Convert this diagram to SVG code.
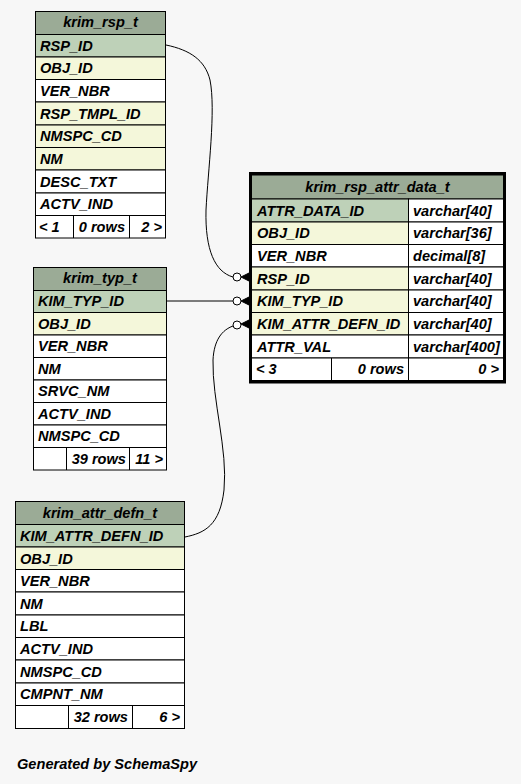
<svg xmlns="http://www.w3.org/2000/svg" width="521" height="784" viewBox="0 0 521 784">
<style>
.bg{fill:#f7f7f7}
.hd{fill:#9bab96;stroke:#000;stroke-width:1}
.pk{fill:#bed1b8;stroke:#000;stroke-width:1}
.fk{fill:#f4f7da;stroke:#000;stroke-width:1}
.pl{fill:#ffffff;stroke:#000;stroke-width:1}
.ln{stroke:#000;stroke-width:1;fill:none}
text{font-family:"Liberation Sans",Arial,sans-serif;font-weight:bold;font-style:italic;font-size:14.6px;fill:#000}
.c{text-anchor:middle}
.r{text-anchor:end}
.edge{fill:none;stroke:#000;stroke-width:1}
.dot{fill:#fff;stroke:#000;stroke-width:1}
.crow{fill:#000;stroke:#000;stroke-width:1}
</style>
<rect class="bg" x="0" y="0" width="521" height="784"/>

<g id="connectors">
<path class="edge" d="M166,45 C190,50 205,60 210,80 C216,110 208,170 206,210 C205,250 215,272 233,277"/>
<circle class="dot" cx="237" cy="277" r="4"/>
<path class="crow" d="M241,277 L249,273 L249,281 Z"/>
<path class="edge" d="M167,301 L233,301"/>
<circle class="dot" cx="237" cy="301" r="4"/>
<path class="crow" d="M241,301 L249,297 L249,305 Z"/>
<path class="edge" d="M185,537 C205,533 220,525 224,490 C228,450 212,400 213,360 C214,340 222,330 233,326"/>
<circle class="dot" cx="237" cy="325" r="4"/>
<path class="crow" d="M241,324 L249,320 L249,328 Z"/>
</g>

<g id="krim_rsp_t">
<rect class="hd" x="35.5" y="11.5" width="130" height="23"/>
<text class="c" x="100.5" y="27">krim_rsp_t</text>
<rect class="pk" x="35.5" y="34.5" width="130" height="22.5"/>
<rect class="fk" x="35.5" y="57" width="130" height="22.5"/>
<rect class="pl" x="35.5" y="79.5" width="130" height="22.5"/>
<rect class="fk" x="35.5" y="102" width="130" height="23"/>
<rect class="fk" x="35.5" y="125" width="130" height="22.5"/>
<rect class="fk" x="35.5" y="147.5" width="130" height="22.5"/>
<rect class="pl" x="35.5" y="170" width="130" height="23"/>
<rect class="pl" x="35.5" y="193" width="130" height="22.5"/>
<rect class="pl" x="35.5" y="215.5" width="130" height="22.5"/>
<line class="ln" x1="73.5" y1="215.5" x2="73.5" y2="238"/>
<line class="ln" x1="129.5" y1="215.5" x2="129.5" y2="238"/>
<text x="40" y="51">RSP_ID</text>
<text x="40" y="73">OBJ_ID</text>
<text x="40" y="96">VER_NBR</text>
<text x="40" y="119">RSP_TMPL_ID</text>
<text x="40" y="141">NMSPC_CD</text>
<text x="40" y="164">NM</text>
<text x="40" y="187">DESC_TXT</text>
<text x="40" y="209">ACTV_IND</text>
<text x="39" y="232">&lt; 1</text>
<text class="r" x="125" y="232">0 rows</text>
<text class="r" x="162" y="232">2 &gt;</text>
</g>

<g id="krim_rsp_attr_data_t">
<rect class="hd" x="251" y="175" width="253" height="24"/>
<text class="c" x="377.5" y="192">krim_rsp_attr_data_t</text>
<rect class="pk" x="251" y="199" width="157.5" height="23"/>
<rect class="fk" x="251" y="222" width="157.5" height="22.5"/>
<rect class="pl" x="251" y="244.5" width="157.5" height="22.5"/>
<rect class="fk" x="251" y="267" width="157.5" height="23"/>
<rect class="fk" x="251" y="290" width="157.5" height="22.5"/>
<rect class="fk" x="251" y="312.5" width="157.5" height="22.5"/>
<rect class="pl" x="251" y="335" width="157.5" height="23"/>
<rect class="pl" x="408.5" y="199" width="95.5" height="23"/>
<rect class="pl" x="408.5" y="222" width="95.5" height="22.5"/>
<rect class="pl" x="408.5" y="244.5" width="95.5" height="22.5"/>
<rect class="pl" x="408.5" y="267" width="95.5" height="23"/>
<rect class="pl" x="408.5" y="290" width="95.5" height="22.5"/>
<rect class="pl" x="408.5" y="312.5" width="95.5" height="22.5"/>
<rect class="pl" x="408.5" y="335" width="95.5" height="23"/>
<rect class="pl" x="251" y="358" width="253" height="22.5"/>
<line class="ln" x1="331.5" y1="358" x2="331.5" y2="380.5"/>
<line class="ln" x1="408.5" y1="358" x2="408.5" y2="380.5"/>
<rect x="250.5" y="173.5" width="254" height="208.5" fill="none" stroke="#000" stroke-width="3"/>
<text x="257" y="216">ATTR_DATA_ID</text>
<text x="257" y="238">OBJ_ID</text>
<text x="257" y="261">VER_NBR</text>
<text x="257" y="284">RSP_ID</text>
<text x="257" y="306">KIM_TYP_ID</text>
<text x="257" y="329">KIM_ATTR_DEFN_ID</text>
<text x="257" y="352">ATTR_VAL</text>
<text x="413" y="216">varchar[40]</text>
<text x="413" y="238">varchar[36]</text>
<text x="413" y="261">decimal[8]</text>
<text x="413" y="284">varchar[40]</text>
<text x="413" y="306">varchar[40]</text>
<text x="413" y="329">varchar[40]</text>
<text x="413" y="352">varchar[400]</text>
<text x="256" y="374">&lt; 3</text>
<text class="r" x="404" y="374">0 rows</text>
<text class="r" x="499" y="374">0 &gt;</text>
</g>

<g id="krim_typ_t">
<rect class="hd" x="33.5" y="267.5" width="133" height="23"/>
<text class="c" x="100" y="283">krim_typ_t</text>
<rect class="pk" x="33.5" y="290.5" width="133" height="22"/>
<rect class="fk" x="33.5" y="312.5" width="133" height="22.5"/>
<rect class="pl" x="33.5" y="335" width="133" height="22.5"/>
<rect class="pl" x="33.5" y="357.5" width="133" height="22.5"/>
<rect class="pl" x="33.5" y="380" width="133" height="22.5"/>
<rect class="pl" x="33.5" y="402.5" width="133" height="22.5"/>
<rect class="pl" x="33.5" y="425" width="133" height="22.5"/>
<rect class="pl" x="33.5" y="447.5" width="133" height="22.5"/>
<line class="ln" x1="66.5" y1="447.5" x2="66.5" y2="470"/>
<line class="ln" x1="129.5" y1="447.5" x2="129.5" y2="470"/>
<text x="38" y="306">KIM_TYP_ID</text>
<text x="38" y="329">OBJ_ID</text>
<text x="38" y="351">VER_NBR</text>
<text x="38" y="374">NM</text>
<text x="38" y="396">SRVC_NM</text>
<text x="38" y="419">ACTV_IND</text>
<text x="38" y="441">NMSPC_CD</text>
<text class="r" x="126" y="464">39 rows</text>
<text class="r" x="163" y="464">11 &gt;</text>
</g>

<g id="krim_attr_defn_t">
<rect class="hd" x="15.5" y="501.5" width="169" height="23"/>
<text class="c" x="100" y="518">krim_attr_defn_t</text>
<rect class="pk" x="15.5" y="524.5" width="169" height="22.5"/>
<rect class="fk" x="15.5" y="547" width="169" height="22.5"/>
<rect class="pl" x="15.5" y="569.5" width="169" height="22.5"/>
<rect class="pl" x="15.5" y="592" width="169" height="23"/>
<rect class="pl" x="15.5" y="615" width="169" height="22.5"/>
<rect class="pl" x="15.5" y="637.5" width="169" height="22.5"/>
<rect class="pl" x="15.5" y="660" width="169" height="23"/>
<rect class="pl" x="15.5" y="683" width="169" height="22.5"/>
<rect class="pl" x="15.5" y="705.5" width="169" height="23"/>
<line class="ln" x1="68.5" y1="705.5" x2="68.5" y2="728.5"/>
<line class="ln" x1="132.5" y1="705.5" x2="132.5" y2="728.5"/>
<text x="20" y="541">KIM_ATTR_DEFN_ID</text>
<text x="20" y="564">OBJ_ID</text>
<text x="20" y="586">VER_NBR</text>
<text x="20" y="609">NM</text>
<text x="20" y="631">LBL</text>
<text x="20" y="654">ACTV_IND</text>
<text x="20" y="677">NMSPC_CD</text>
<text x="20" y="699">CMPNT_NM</text>
<text class="r" x="128" y="722">32 rows</text>
<text class="r" x="180" y="722">6 &gt;</text>
</g>

<text x="17" y="769">Generated by SchemaSpy</text>
</svg>
